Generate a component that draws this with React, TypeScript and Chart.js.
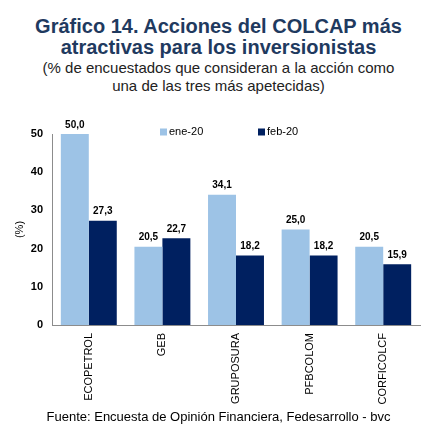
import { useEffect, useRef } from "react"
import { Chart, registerables } from "chart.js"

Chart.register(...registerables)

const categories = ["ECOPETROL", "GEB", "GRUPOSURA", "PFBCOLOM", "CORFICOLCF"]
const seriesNames = ["ene-20", "feb-20"]
const ene20 = [50.0, 20.5, 34.1, 25.0, 20.5]
const feb20 = [27.3, 22.7, 18.2, 18.2, 15.9]

const LIGHT = "#9dc3e6"
const DARK = "#002060"
const FONT = "'Liberation Sans', Arial, sans-serif"

// value labels above the bars, decimal comma
const barLabels = {
  id: "barLabels",
  afterDatasetsDraw(chart: Chart) {
    const ctx = chart.ctx
    ctx.save()
    ctx.font = `bold 10px ${FONT}`
    ctx.fillStyle = "#000"
    ctx.textAlign = "center"
    ctx.textBaseline = "bottom"
    chart.data.datasets.forEach((ds, i) => {
      const meta = chart.getDatasetMeta(i)
      meta.data.forEach((bar: any, j) => {
        const v = ds.data[j] as number
        ctx.fillText(v.toFixed(1).replace(".", ","), bar.x, bar.y - 4)
      })
    })
    ctx.restore()
  },
}

// legend drawn inside the plot area
const innerLegend = {
  id: "innerLegend",
  afterDraw(chart: Chart) {
    const ctx = chart.ctx
    const { left, top } = chart.chartArea
    const offsets = [108, 206]
    ctx.save()
    ctx.font = `11px ${FONT}`
    ctx.textBaseline = "middle"
    ctx.textAlign = "left"
    chart.data.datasets.forEach((ds, i) => {
      const x = left + offsets[i]
      const y = top - 2
      ctx.fillStyle = ds.backgroundColor as string
      ctx.fillRect(x, y - 3.5, 7, 7)
      ctx.fillStyle = "#000"
      ctx.fillText(ds.label as string, x + 9, y)
    })
    ctx.restore()
  },
}

export default function App() {
  const chartRef = useRef<HTMLCanvasElement>(null)
  const chartInstance = useRef<Chart | null>(null)

  useEffect(() => {
    if (!chartRef.current) return
    if (chartInstance.current) chartInstance.current.destroy()

    chartInstance.current = new Chart(chartRef.current, {
      type: "bar",
      data: {
        labels: categories,
        datasets: [
          { label: seriesNames[0], data: ene20, backgroundColor: LIGHT },
          { label: seriesNames[1], data: feb20, backgroundColor: DARK },
        ],
      },
      options: {
        responsive: true,
        maintainAspectRatio: false,
        animation: false,
        datasets: { bar: { categoryPercentage: 0.76, barPercentage: 1 } },
        layout: { padding: { top: 24, right: 17, left: 0, bottom: 0 } },
        plugins: {
          legend: { display: false },
          tooltip: { enabled: false },
        },
        scales: {
          x: {
            grid: { display: false, drawTicks: false },
            border: { display: true, color: "#8c8c8c", width: 1 },
            ticks: {
              minRotation: 90,
              maxRotation: 90,
              autoSkip: false,
              padding: 8,
              color: "#000",
              font: { family: FONT, size: 11 },
            },
            afterFit(scale: any) {
              scale.height = 85
            },
          },
          y: {
            min: 0,
            max: 50,
            grid: { display: false, drawTicks: false },
            border: { display: true, color: "#8c8c8c", width: 1 },
            ticks: {
              stepSize: 10,
              padding: 9,
              color: "#000",
              font: { family: FONT, size: 11, weight: "bold" },
            },
            title: {
              display: true,
              text: "(%)",
              color: "#000",
              font: { family: FONT, size: 11 },
              padding: { top: 13, bottom: 0 },
            },
            afterFit(scale: any) {
              scale.width = 52
            },
          },
        },
      },
      plugins: [barLabels, innerLegend],
    })

    return () => {
      if (chartInstance.current) {
        chartInstance.current.destroy()
        chartInstance.current = null
      }
    }
  }, [])

  const center: React.CSSProperties = {
    position: "absolute",
    left: 0,
    width: 437,
    textAlign: "center",
    fontFamily: FONT,
    whiteSpace: "nowrap",
    margin: 0,
  }

  return (
    <div style={{ position: "absolute", left: 0, top: 0, width: 437, height: 437, background: "#fff", overflow: "hidden" }}>
      <div style={{ ...center, top: 15.5, fontSize: 20, lineHeight: "21px", fontWeight: "bold", color: "#1f3a5f" }}>
        Gráfico 14. Acciones del COLCAP más
        <br />
        atractivas para los inversionistas
      </div>
      <div style={{ ...center, top: 58.5, fontSize: 15, lineHeight: "18.5px", color: "#222" }}>
        (% de encuestados que consideran a la acción como
        <br />
        una de las tres más apetecidas)
      </div>
      <div style={{ position: "absolute", left: 0, top: 110, width: 437, height: 300 }}>
        <canvas ref={chartRef} />
      </div>
      <div style={{ ...center, top: 409, fontSize: 13, lineHeight: "15px", color: "#000" }}>
        Fuente: Encuesta de Opinión Financiera, Fedesarrollo - bvc
      </div>
    </div>
  )
}
